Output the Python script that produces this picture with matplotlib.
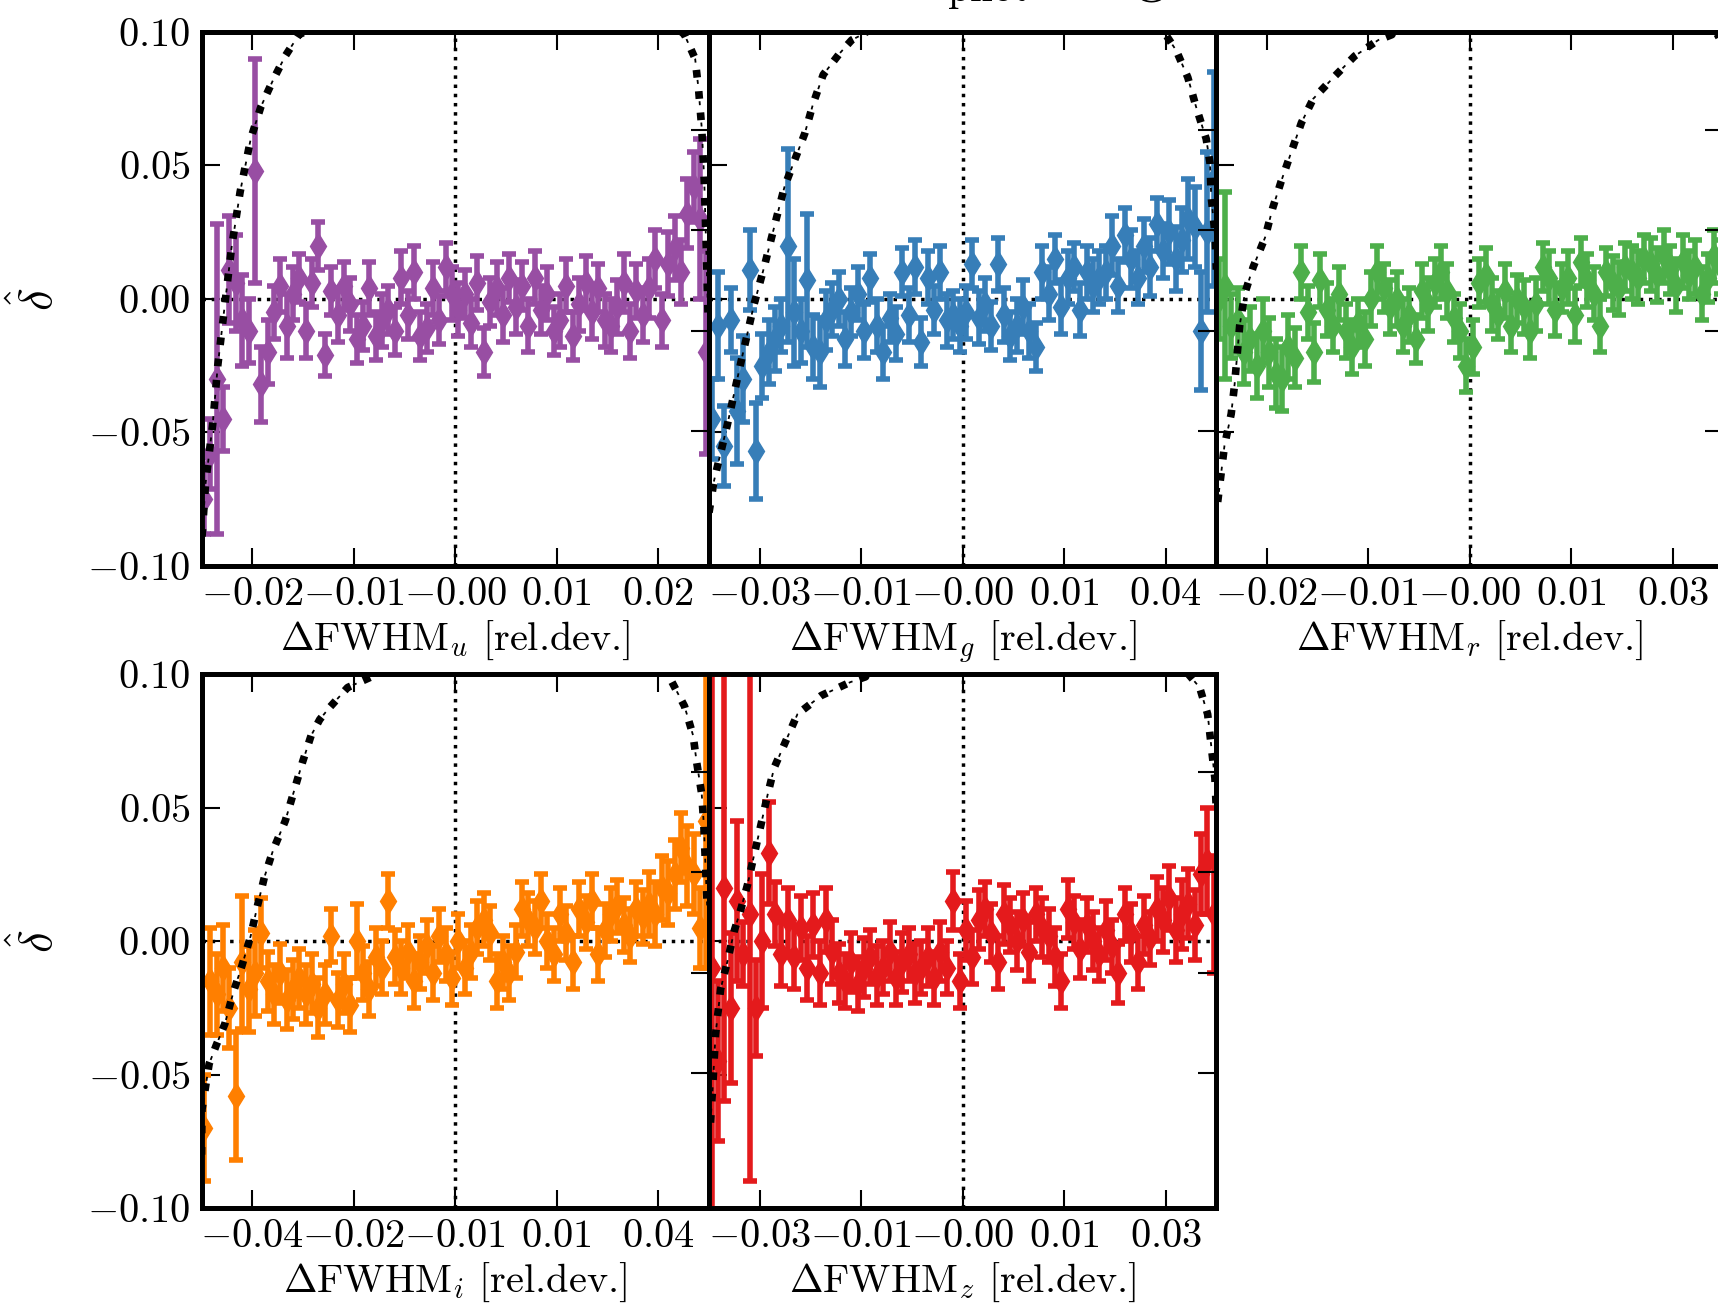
import numpy as np
import matplotlib.pyplot as plt

plt.rcParams['mathtext.fontset'] = 'cm'
plt.rcParams['font.family'] = ['cmr10', 'DejaVu Serif']
plt.rcParams['axes.unicode_minus'] = False

bands = ['u', 'g', 'r', 'i', 'z']
colors = ['#984ea3', '#377eb8', '#4daf4a', '#ff7f00', '#e41a1c']
half_range = [0.025, 0.04, 0.03, 0.05, 0.035]

xtick_labels = [
    ['$-0.02$', '$-0.01$', '$-0.00$', '$0.01$', '$0.02$'],
    ['$-0.03$', '$-0.01$', '$-0.00$', '$0.01$', '$0.04$'],
    ['$-0.02$', '$-0.01$', '$-0.00$', '$0.01$', '$0.03$'],
    ['$-0.04$', '$-0.02$', '$-0.01$', '$0.01$', '$0.04$'],
    ['$-0.03$', '$-0.01$', '$-0.00$', '$0.01$', '$0.03$'],
]
ytick_vals = [-0.10, -0.05, 0.0, 0.05, 0.10]
ytick_labels = ['$-0.10$', '$-0.05$', '$0.00$', '$0.05$', '$0.10$']

# binned delta-hat values and errors (left -> right)
u_delta = [-0.075, -0.058, -0.03, -0.045, 0.011, 0.006, -0.008, -0.012, 0.048, -0.032,
           -0.02, -0.005, 0.005, -0.01, 0.002, 0.008, -0.012, 0.006, 0.02, -0.021,
           0.003, -0.006, 0.005, -0.002, -0.015, -0.01, 0.004, -0.014, -0.008, -0.004,
           -0.012, 0.008, -0.006, 0.01, -0.014, -0.011, 0.004, -0.008, 0.012, 0.002,
           -0.004, 0.002, -0.009, 0.006, -0.02, -0.001, 0.004, -0.006, 0.008, -0.003,
           0.005, -0.01, 0.008, -0.004, 0.002, -0.012, -0.008, 0.005, -0.014, -0.002,
           0.006, -0.005, 0.004, -0.008, -0.01, -0.003, 0.006, -0.012, 0.003, -0.006,
           0.004, 0.015, -0.008, 0.013, 0.019, 0.01, 0.032, 0.042, 0.03, -0.02]
u_err = [0.013, 0.013, 0.058, 0.012, 0.02, 0.018, 0.017, 0.012, 0.042, 0.014,
         0.012, 0.01, 0.01, 0.012, 0.01, 0.009, 0.01, 0.009, 0.009, 0.008,
         0.009, 0.01, 0.009, 0.01, 0.009, 0.009, 0.01, 0.009, 0.01, 0.009,
         0.009, 0.01, 0.009, 0.01, 0.009, 0.009, 0.01, 0.009, 0.009, 0.01,
         0.01, 0.009, 0.009, 0.01, 0.009, 0.009, 0.01, 0.01, 0.009, 0.01,
         0.009, 0.01, 0.01, 0.009, 0.01, 0.009, 0.01, 0.01, 0.009, 0.01,
         0.01, 0.01, 0.009, 0.01, 0.01, 0.01, 0.011, 0.01, 0.01, 0.01,
         0.011, 0.011, 0.01, 0.012, 0.012, 0.012, 0.013, 0.013, 0.03, 0.038]

g_delta = [-0.045, -0.01, -0.055, -0.008, -0.042, -0.03, 0.011, -0.057, -0.025, -0.02,
           -0.015, -0.01, 0.02, -0.005, -0.012, 0.007, -0.018, -0.02, -0.008, -0.004,
           0.0, -0.015, -0.005, 0.002, -0.012, 0.008, -0.01, -0.02, -0.007, -0.013,
           0.01, -0.006, 0.012, -0.016, 0.008, -0.004, 0.01, -0.008, -0.006, -0.01,
           -0.005, 0.013, -0.007, -0.002, -0.01, 0.013, -0.006, -0.014, -0.01, -0.003,
           -0.012, -0.018, 0.01, 0.002, 0.015, -0.003, 0.008, 0.012, -0.004, 0.01,
           0.005, 0.008, 0.01, 0.02, 0.005, 0.024, 0.015, 0.008, 0.02, 0.012,
           0.028, 0.018, 0.025, 0.015, 0.022, 0.03, 0.027, -0.012, 0.025, 0.045]
g_err = [0.015, 0.02, 0.015, 0.012, 0.02, 0.016, 0.015, 0.018, 0.012, 0.012,
         0.012, 0.01, 0.036, 0.02, 0.012, 0.025, 0.012, 0.013, 0.011, 0.01,
         0.01, 0.01, 0.009, 0.01, 0.01, 0.009, 0.01, 0.01, 0.009, 0.01,
         0.009, 0.01, 0.01, 0.009, 0.01, 0.009, 0.01, 0.01, 0.009, 0.01,
         0.01, 0.009, 0.01, 0.01, 0.009, 0.01, 0.01, 0.009, 0.01, 0.01,
         0.01, 0.009, 0.01, 0.01, 0.009, 0.01, 0.01, 0.009, 0.01, 0.01,
         0.01, 0.01, 0.01, 0.011, 0.01, 0.01, 0.011, 0.01, 0.01, 0.011,
         0.01, 0.01, 0.012, 0.012, 0.012, 0.015, 0.015, 0.022, 0.03, 0.04]

r_delta = [0.0, 0.005, -0.01, -0.008, -0.02, -0.015, -0.025, -0.012, -0.02, -0.028,
           -0.03, -0.018, -0.022, 0.01, -0.005, -0.02, 0.007, -0.004, -0.01, 0.002,
           -0.012, -0.018, -0.009, -0.015, 0.0, 0.01, 0.004, -0.003, 0.0, -0.01,
           -0.006, -0.015, 0.003, -0.002, 0.006, 0.01, 0.003, -0.007, -0.012, -0.025,
           -0.018, 0.006, 0.009, -0.002, -0.006, 0.003, -0.01, 0.0, -0.003, -0.012,
           -0.002, 0.012, 0.008, -0.004, 0.004, 0.008, -0.006, 0.014, 0.007, 0.002,
           -0.01, 0.01, 0.006, 0.004, 0.012, 0.01, 0.008, 0.015, 0.013, 0.009,
           0.016, 0.011, 0.005, 0.014, 0.009, 0.012, 0.002, 0.008, 0.016, 0.012]
r_err = [0.015, 0.035, 0.012, 0.012, 0.012, 0.012, 0.012, 0.012, 0.013, 0.013,
         0.012, 0.012, 0.011, 0.01, 0.01, 0.011, 0.01, 0.01, 0.01, 0.01,
         0.01, 0.01, 0.009, 0.01, 0.01, 0.01, 0.009, 0.01, 0.01, 0.01,
         0.01, 0.009, 0.01, 0.01, 0.009, 0.01, 0.01, 0.009, 0.01, 0.01,
         0.01, 0.009, 0.01, 0.01, 0.009, 0.01, 0.01, 0.009, 0.01, 0.01,
         0.01, 0.009, 0.01, 0.01, 0.009, 0.01, 0.01, 0.009, 0.01, 0.01,
         0.01, 0.009, 0.01, 0.01, 0.009, 0.01, 0.01, 0.009, 0.01, 0.01,
         0.01, 0.009, 0.01, 0.01, 0.009, 0.01, 0.01, 0.009, 0.01, 0.01]

i_delta = [-0.07, -0.015, -0.02, -0.01, -0.025, -0.058, -0.008, -0.018, -0.012, 0.003,
           -0.015, -0.02, -0.012, -0.022, -0.018, -0.014, -0.02, -0.016, -0.025, -0.02,
           0.002, -0.022, -0.016, -0.024, 0.0, -0.012, -0.018, -0.006, -0.01, 0.015,
           -0.006, -0.01, -0.004, -0.015, -0.008, -0.002, -0.012, 0.002, -0.005, -0.014,
           0.0, -0.01, -0.004, 0.005, 0.008, 0.003, -0.015, -0.008, -0.012, -0.004,
           0.012, 0.008, 0.005, 0.015, 0.0, -0.005, 0.01, 0.003, -0.008, 0.012,
           0.007, 0.015, -0.005, 0.004, 0.01, 0.013, 0.006, 0.002, 0.012, 0.009,
           0.014, 0.01, 0.02, 0.018, 0.025, 0.035, 0.028, 0.025, 0.005, 0.045]
i_err = [0.02, 0.02, 0.015, 0.016, 0.015, 0.024, 0.025, 0.016, 0.016, 0.013,
         0.011, 0.011, 0.011, 0.011, 0.011, 0.011, 0.011, 0.011, 0.011, 0.011,
         0.01, 0.01, 0.011, 0.01, 0.014, 0.01, 0.01, 0.011, 0.01, 0.01,
         0.01, 0.01, 0.01, 0.01, 0.01, 0.01, 0.01, 0.01, 0.01, 0.01,
         0.01, 0.01, 0.01, 0.01, 0.01, 0.01, 0.01, 0.01, 0.01, 0.01,
         0.01, 0.01, 0.01, 0.01, 0.01, 0.01, 0.01, 0.01, 0.01, 0.01,
         0.01, 0.01, 0.01, 0.01, 0.01, 0.01, 0.01, 0.01, 0.01, 0.01,
         0.012, 0.012, 0.012, 0.012, 0.013, 0.013, 0.015, 0.015, 0.015, 0.055]

z_delta = [-0.01, -0.045, 0.02, -0.025, 0.015, -0.005, 0.01, -0.025, 0.0, 0.033,
           0.01, -0.005, 0.008, -0.006, 0.005, -0.01, 0.006, -0.012, 0.008, -0.004,
           -0.012, -0.015, -0.008, -0.016, -0.01, -0.006, -0.013, -0.01, -0.004, -0.014,
           -0.008, -0.005, -0.012, -0.01, -0.006, -0.014, -0.004, -0.01, 0.015, -0.015,
           0.004, -0.006, 0.008, 0.012, 0.003, -0.008, 0.01, 0.006, 0.0, 0.008,
           -0.004, 0.01, 0.005, 0.002, -0.006, -0.015, 0.012, 0.007, -0.003, 0.006,
           0.0, -0.005, 0.004, -0.002, -0.012, 0.01, 0.003, -0.008, 0.006, 0.001,
           0.012, 0.008, 0.016, 0.004, 0.01, 0.014, 0.006, 0.025, 0.03, 0.01]
z_err = [0.11, 0.03, 0.08, 0.028, 0.03, 0.012, 0.1, 0.018, 0.025, 0.019,
         0.012, 0.012, 0.012, 0.012, 0.012, 0.012, 0.012, 0.012, 0.012, 0.012,
         0.011, 0.01, 0.011, 0.01, 0.011, 0.01, 0.011, 0.01, 0.011, 0.01,
         0.011, 0.01, 0.011, 0.01, 0.011, 0.01, 0.011, 0.01, 0.011, 0.01,
         0.011, 0.01, 0.011, 0.01, 0.011, 0.01, 0.011, 0.01, 0.011, 0.01,
         0.011, 0.01, 0.011, 0.01, 0.011, 0.01, 0.011, 0.01, 0.011, 0.01,
         0.011, 0.01, 0.011, 0.01, 0.011, 0.01, 0.011, 0.01, 0.011, 0.01,
         0.012, 0.012, 0.012, 0.012, 0.013, 0.013, 0.013, 0.015, 0.02, 0.022]

# distribution curves (black dash-dot), in delta units
u_curve_x = [-0.02495, -0.0246, -0.0239, -0.0234, -0.0227, -0.02205, -0.0212, -0.02015, -0.01915,
             -0.01795, -0.01675, -0.0154, -0.0137, 0.0, 0.02175, 0.0226, 0.02365, 0.024, 0.0243,
             0.02455, 0.02475, 0.02495]
u_curve_y = [-0.089, -0.069, -0.047, -0.025, -0.002, 0.019, 0.040, 0.060, 0.072, 0.082, 0.091,
             0.099, 0.102, 0.2, 0.102, 0.099, 0.090, 0.078, 0.064, 0.044, 0.018, -0.01]
g_curve_x = [-0.040, -0.0392, -0.0371, -0.035, -0.0329, -0.0313, -0.0294, -0.0281, -0.0265, -0.0249,
             -0.0236, -0.022, -0.0194, -0.0175, -0.0159, -0.0138, 0.008, 0.0323, 0.0337, 0.0355,
             0.0368, 0.0384, 0.039, 0.0392, 0.0398, 0.040]
g_curve_y = [-0.08, -0.068, -0.047, -0.024, -0.002, 0.012, 0.030, 0.042, 0.052, 0.062, 0.073,
             0.084, 0.092, 0.097, 0.099, 0.102, 0.2, 0.098, 0.093, 0.083, 0.072, 0.060, 0.051,
             0.038, 0.024, 0.011]
r_curve_x = [-0.0298, -0.029, -0.0282, -0.0278, -0.0272, -0.0266, -0.0256, -0.0242, -0.0233, -0.0223,
             -0.0211, -0.0199, -0.0185, -0.0161, -0.0136, -0.0108, -0.0092, 0.006, 0.0288, 0.030]
r_curve_y = [-0.076, -0.055, -0.043, -0.032, -0.010, 0.002, 0.012, 0.023, 0.034, 0.044, 0.055,
             0.066, 0.075, 0.083, 0.091, 0.097, 0.099, 0.2, 0.102, 0.095]
i_curve_x = [-0.050, -0.0499, -0.0485, -0.0471, -0.0454, -0.0437, -0.042, -0.0403, -0.039, -0.0376,
             -0.0359, -0.0335, -0.0318, -0.0301, -0.0284, -0.0267, -0.025, -0.0212, -0.0165, 0.0,
             0.0422, 0.0452, 0.0469, 0.0476, 0.0486, 0.049, 0.0493, 0.0497]
i_curve_y = [-0.08, -0.063, -0.046, -0.039, -0.031, -0.019, -0.009, 0.002, 0.013, 0.024, 0.034,
             0.045, 0.056, 0.067, 0.077, 0.083, 0.087, 0.095, 0.099, 0.2, 0.099, 0.088, 0.077,
             0.067, 0.055, 0.044, 0.030, 0.012]
z_curve_x = [-0.0348, -0.0345, -0.0341, -0.0334, -0.0325, -0.0315, -0.0306, -0.0297, -0.0288, -0.0278,
             -0.0269, -0.026, -0.0244, -0.0228, -0.0195, -0.0155, -0.0134, 0.0, 0.0327, 0.0338,
             0.0343, 0.0348, 0.035]
z_curve_y = [-0.068, -0.055, -0.035, -0.018, -0.008, 0.004, 0.012, 0.021, 0.032, 0.044, 0.055,
             0.065, 0.075, 0.085, 0.092, 0.097, 0.099, 0.2, 0.095, 0.085, 0.073, 0.061, 0.049]

deltas = [u_delta, g_delta, r_delta, i_delta, z_delta]
errs = [u_err, g_err, r_err, i_err, z_err]
curves_x = [u_curve_x, g_curve_x, r_curve_x, i_curve_x, z_curve_x]
curves_y = [u_curve_y, g_curve_y, r_curve_y, i_curve_y, z_curve_y]

fig = plt.figure(figsize=(17.18, 13.07), dpi=100)
# title sits mostly above the canvas, as in the original figure
fig.text(0.52, 1.006, r'$\hat{\delta}$ binned in $N_{\rm phot}$ range', ha='center',
         va='baseline', fontsize=42)

lefts = [0.1173, 0.4127, 0.7078]
bottoms = [0.567, 0.0757]
w, h = 0.2953, 0.4085

for k, band in enumerate(bands):
    row, col = divmod(k, 3)
    ax = fig.add_axes([lefts[col], bottoms[row], w, h])
    L = half_range[k]
    x = np.linspace(-0.99 * L, 0.99 * L, len(deltas[k]))

    ax.axhline(0, color='k', ls=':', lw=2.5, zorder=1)
    ax.axvline(0, color='k', ls=':', lw=2.5, zorder=1)
    ax.errorbar(x, deltas[k], yerr=errs[k], fmt='d', color=colors[k], mec=colors[k],
                ms=13, lw=4, capsize=5, capthick=4, zorder=3)
    # histogram-like curve: thick squares + thin dashes in between
    ax.plot(curves_x[k], curves_y[k], color='k', lw=5.5, ls=(0, (1, 1.8)), zorder=4)
    ax.plot(curves_x[k], curves_y[k], color='k', lw=1.3, ls=(6.3, (2.2, 9.65)), zorder=4)

    ax.set_xlim(-L, L)
    ax.set_ylim(-0.1, 0.1)
    ax.set_xticks([-0.8 * L, -0.4 * L, 0, 0.4 * L, 0.8 * L])
    ax.set_xticklabels(xtick_labels[k])
    ax.set_yticks(ytick_vals)
    if col == 0:
        ax.set_yticklabels(ytick_labels)
        ax.set_ylabel(r'$\hat{\delta}$', fontsize=34, labelpad=18)
    else:
        ax.set_yticklabels([])
    ax.tick_params(direction='in', length=13, width=1.5, top=True, right=False,
                   labelsize=29, pad=8)
    ax.set_xlabel(r'$\Delta$FWHM$_%s$ [rel.dev.]' % band, fontsize=29, labelpad=4)

    axr = ax.twinx()
    axr.set_ylim(-0.07, 0.996)
    axr.set_yticks([0.2, 0.4, 0.6, 0.8])
    axr.tick_params(direction='in', length=13, width=1.5, labelright=False)
    for a in (ax, axr):
        for s in a.spines.values():
            s.set_linewidth(3.5)

fig.savefig('out.png', dpi=100)
